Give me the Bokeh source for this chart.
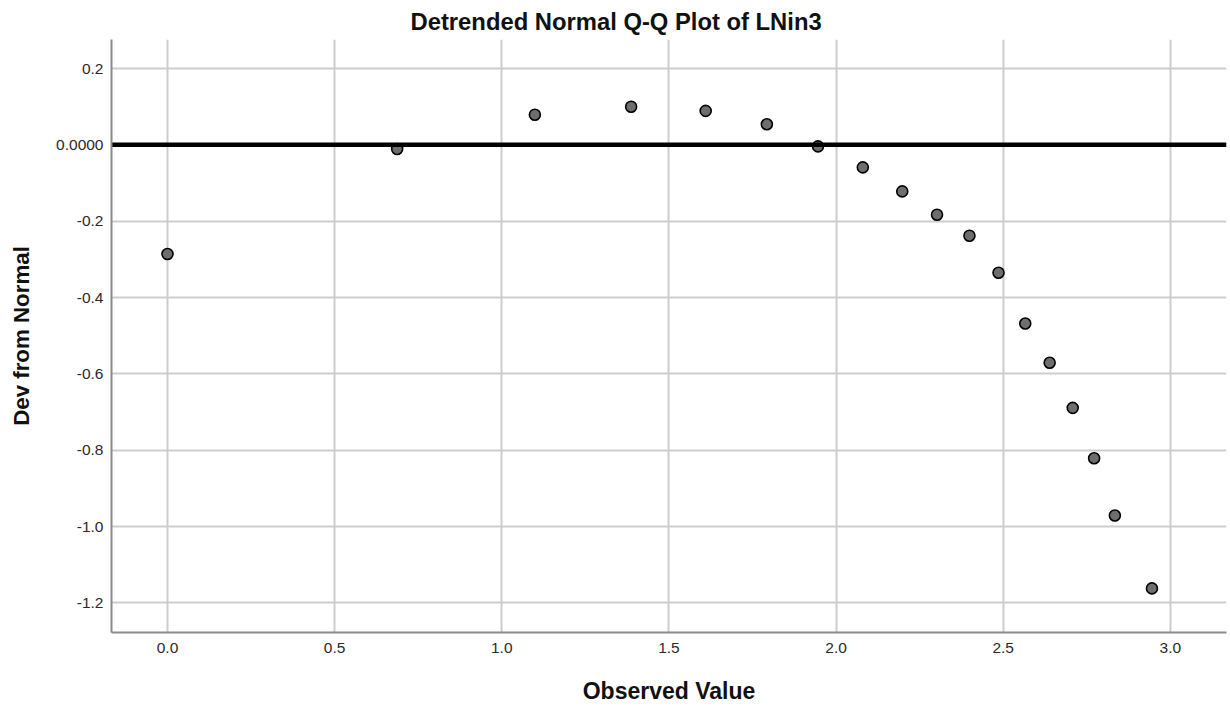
from bokeh.plotting import figure
from bokeh.models import Range1d, FixedTicker, CustomJSTickFormatter, Span
from bokeh.embed import file_html
from bokeh.resources import INLINE

# Observed values (natural log of counts) and their deviation from normal
observed = [0.000, 0.687, 1.099, 1.387, 1.610, 1.793, 1.946, 2.080, 2.198,
            2.302, 2.399, 2.486, 2.566, 2.639, 2.708, 2.772, 2.834, 2.945]
dev_from_normal = [-0.286, -0.011, 0.079, 0.100, 0.089, 0.054, -0.004, -0.059, -0.122,
                   -0.183, -0.238, -0.335, -0.468, -0.571, -0.689, -0.821, -0.971, -1.162]

x_ticks = [0.0, 0.5, 1.0, 1.5, 2.0, 2.5, 3.0]
y_ticks = [-1.2, -1.0, -0.8, -0.6, -0.4, -0.2, 0.0, 0.2]

FONT = "Liberation Sans"

p = figure(
    width=1230, height=709,
    x_range=Range1d(-0.1675, 3.168),
    y_range=Range1d(-1.2776, 0.276),
    output_backend="svg", toolbar_location=None,
    min_border_left=111, min_border_right=4,
    min_border_top=39, min_border_bottom=77,
)
p.outline_line_color = None
p.background_fill_color = "white"
p.border_fill_color = "white"

p.title.text = "Detrended Normal Q-Q Plot of LNin3"
p.title.align = "left"
p.title.offset = 299
p.title.text_font = FONT
p.title.text_font_size = "23.8px"
p.title.text_font_style = "bold"
p.title.text_color = "#111111"

for ax in (p.xaxis[0], p.yaxis[0]):
    ax.axis_line_color = "#8a8a8a"
    ax.axis_line_width = 2
    ax.major_tick_line_color = None
    ax.minor_tick_line_color = None
    ax.major_tick_out = 0
    ax.major_tick_in = 0
    ax.major_label_text_font = FONT
    ax.major_label_text_font_size = "15.5px"
    ax.major_label_text_color = "#2a2a2a"
    ax.axis_label_text_font = FONT
    ax.axis_label_text_font_style = "bold"
    ax.axis_label_text_color = "#111111"

p.xaxis.axis_label = "Observed Value"
p.xaxis.axis_label_text_font_size = "23px"
p.xaxis.axis_label_standoff = 22
p.yaxis.axis_label = "Dev from Normal"
p.yaxis.axis_label_text_font_size = "22.3px"
p.yaxis.axis_label_standoff = 19
p.xaxis.ticker = FixedTicker(ticks=x_ticks)
p.yaxis.ticker = FixedTicker(ticks=y_ticks)
p.xaxis.formatter = CustomJSTickFormatter(code="return tick.toFixed(1);")
p.yaxis.formatter = CustomJSTickFormatter(
    code="return Math.abs(tick) < 1e-9 ? '0.0000' : tick.toFixed(1);")
p.xaxis.major_label_standoff = 10
p.yaxis.major_label_standoff = 8

for g in (p.xgrid[0], p.ygrid[0]):
    g.grid_line_color = "#cdcdcd"
    g.grid_line_width = 2
p.xgrid.ticker = FixedTicker(ticks=x_ticks)
p.ygrid.ticker = FixedTicker(ticks=y_ticks)

# Zero-deviation reference line, beneath the points
zero_line = Span(location=0, dimension="width", line_color="black",
                 line_width=4.5, level="glyph")
p.add_layout(zero_line)

p.scatter(observed, dev_from_normal, size=11, marker="circle",
          fill_color="#6e6e6e", line_color="black", line_width=1.6)

open("out.html", "w").write(file_html(p, INLINE))
